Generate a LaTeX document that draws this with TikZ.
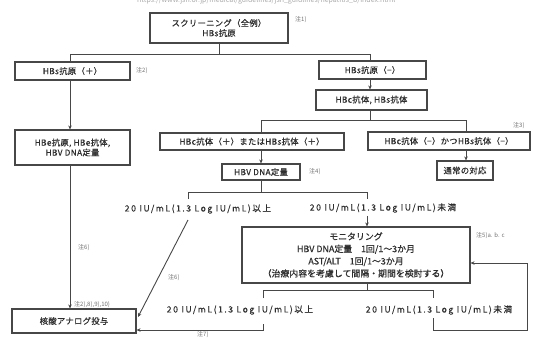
\documentclass[tikz,border=0pt]{standalone}
\usepackage{fontspec}
\setmainfont{Noto Sans CJK JP}
\newfontfamily\wide[LetterSpace=18,FakeBold=0.4]{Noto Sans CJK JP}
\newfontfamily\semi[LetterSpace=4,FakeBold=0.6]{Noto Sans CJK JP}
\newfontfamily\monf[FakeBold=0.6]{Noto Sans CJK JP}
\usetikzlibrary{arrows.meta}
\definecolor{ln}{HTML}{474747}
\definecolor{tx}{HTML}{2E2E2E}
\definecolor{nt}{HTML}{707070}
\tikzset{
  bx/.style={draw=ln, line width=1.1pt, fill=white, text=tx, font=\semi\fontsize{8.3}{10}\selectfont, inner sep=0pt, align=center},
  lbl/.style={text=tx, font=\wide\fontsize{8.6}{10}\selectfont, inner sep=0pt},
  note/.style={text=nt, font=\fontsize{6}{7}\selectfont, inner sep=0pt, anchor=west},
  cn/.style={draw=ln, line width=0.9pt},
  ar/.style={draw=ln, line width=0.9pt, -{Stealth[length=4pt,width=3.5pt]}}
}
\begin{document}
\begin{tikzpicture}[x=1pt,y=-1pt]
\useasboundingbox (0,0) rectangle (533,338);
\begin{scope}
\clip (0,0) rectangle (533,338);
\node[anchor=west, text=nt!60, font=\fontsize{7}{8}\selectfont, inner sep=0pt] (url) at (137,1) {https://www.jsh.or.jp/medical/guidelines/jsh\_guidlines/hepatitis\_b/index.html};
\end{scope}
\node[note] (n7) at (197,334.5) {注7)};

% boxes
\node[bx, minimum width=138pt, minimum height=30pt] (top) at (219,28) {スクリーニング（全例）\\HBs抗原};
\node[bx, minimum width=115pt, minimum height=18pt] (pos) at (72.5,71) {HBs抗原（＋）};
\node[bx, minimum width=107pt, minimum height=18pt] (neg) at (372.5,70) {HBs抗原（−）};
\node[bx, minimum width=111pt, minimum height=20pt] (cs) at (371.5,100) {HBc抗体, HBs抗体};
\node[bx, minimum width=184pt, minimum height=17pt] (lb) at (252,141.5) {HBc抗体（＋）またはHBs抗体（＋）};
\node[bx, minimum width=162pt, minimum height=18pt] (rb) at (449,141) {HBc抗体（−）かつHBs抗体（−）};
\node[bx, minimum width=56pt, minimum height=19pt] (usual) at (465,170.5) {通常の対応};
\node[bx, minimum width=78pt, minimum height=16pt] (dna) at (261,172) {HBV DNA定量};
\node[bx, minimum width=115pt, minimum height=35pt] (hbe) at (72.5,147.5) {HBe抗原, HBe抗体,\\HBV DNA定量};
\node[bx, minimum width=228pt, minimum height=56pt, font=\monf\fontsize{8.9}{12.3}\selectfont] (mon) at (356,255) {モニタリング\\HBV DNA定量　1回/1〜3か月\\AST/ALT　1回/1〜3か月\\（治療内容を考慮して間隔・期間を検討する）};
\node[bx, minimum width=124pt, minimum height=24pt] (kaku) at (74,321) {核酸アナログ投与};

% level texts
\node[lbl] (t1) at (198,209) {20 IU/mL(1.3 Log IU/mL)以上};
\node[lbl] (t2) at (383,208) {20 IU/mL(1.3 Log IU/mL)未満};
\node[lbl] (t3) at (240,310) {20 IU/mL(1.3 Log IU/mL)以上};
\node[lbl] (t4) at (439,310) {20 IU/mL(1.3 Log IU/mL)未満};

% notes
\node[note] (n1) at (295,20) {注1)};
\node[note] (n2) at (136,71) {注2)};
\node[note] (n3) at (513,126) {注3)};
\node[note] (n4) at (309,172) {注4)};
\node[note] (n5) at (476,236) {注5)a. b. c};
\node[note] (n6a) at (78,248) {注6)};
\node[note] (n6b) at (168,278) {注6)};
\node[note] (n2b) at (74,305) {注2),8),9),10)};

% coordinates
\coordinate (j1) at (219,54);
\coordinate (jl) at (70,54);
\coordinate (jr) at (370,54);
\coordinate (j2) at (370,120);
\coordinate (j2l) at (261,120);
\coordinate (j2r) at (466,120);
\coordinate (j3) at (261,192);
\coordinate (j3l) at (188,192);
\coordinate (j3r) at (367,192);
\coordinate (j3ld) at (188,199);
\coordinate (j3rd) at (367,199);
\coordinate (j4) at (367,290);
\coordinate (j4l) at (263,290);
\coordinate (j4r) at (433,290);
\coordinate (j4ld) at (263,298);
\coordinate (j4rd) at (433,298);
\coordinate (b1) at (263,324);
\coordinate (b2) at (263,330);
\coordinate (r1) at (433,318);
\coordinate (r2) at (433,330);
\coordinate (r3) at (527,330);
\coordinate (r4) at (527,263);
\coordinate (d1) at (188,220);
\coordinate (d2) at (138,317);

% connectors
\draw[cn] (top.south) -- (j1);
\draw[cn] (jl) -- (jr);
\draw[cn] (jl) -- (jl |- pos.north);
\draw[cn] (jr) -- (jr |- neg.north);
\draw[ar] (neg.south -| jr) -- (cs.north -| jr);
\draw[ar] (pos.south -| jl) -- (hbe.north -| jl);
\draw[cn] (cs.south -| j2) -- (j2);
\draw[cn] (j2l) -- (j2r);
\draw[cn] (j2l) -- (j2l |- lb.north);
\draw[cn] (j2r) -- (j2r |- rb.north);
\draw[ar] (rb.south -| j2r) -- (usual.north -| j2r);
\draw[ar] (lb.south -| j2l) -- (dna.north -| j2l);
\draw[cn] (dna.south -| j3) -- (j3);
\draw[cn] (j3ld) -- (j3l) -- (j3r) -- (j3rd);
\draw[ar] (t2.south -| j3r) ++(0,3) -- (mon.north -| j3r);
\draw[cn] (mon.south -| j4) -- (j4);
\draw[cn] (j4ld) -- (j4l) -- (j4r) -- (j4rd);
\draw[ar] (b1) -- (b2) -- (kaku.east |- b2);
\draw[ar] (r1) -- (r2) -- (r3) -- (r4) -- (mon.east |- r4);
\draw[ar] (hbe.south -| jl) -- (kaku.north -| jl);
\draw[ar] (d1) -- (d2);
\end{tikzpicture}
\end{document}
